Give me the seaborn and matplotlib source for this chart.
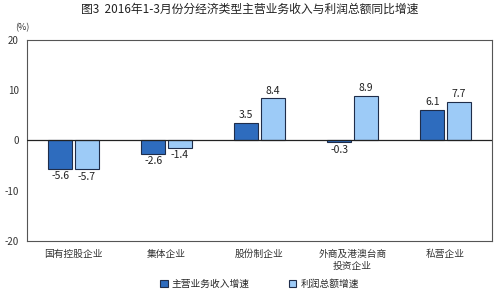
import matplotlib
matplotlib.use("Agg")
import matplotlib.pyplot as plt
import seaborn as sns
import pandas as pd

categories = ["国有控股企业", "集体企业", "股份制企业", "外商及港澳台商\n投资企业", "私营企业"]
series_names = ["主营业务收入增速", "利润总额增速"]
revenue = [-5.6, -2.6, 3.5, -0.3, 6.1]
profit = [-5.7, -1.4, 8.4, 8.9, 7.7]
yticks = [-20, -10, 0, 10, 20]

sns.set_theme(style="white")
plt.rcParams['font.family'] = ['Noto Sans CJK SC', 'DejaVu Sans']
plt.rcParams['axes.unicode_minus'] = False

df = pd.DataFrame({
    "cat": categories * 2,
    "series": [series_names[0]] * 5 + [series_names[1]] * 5,
    "value": revenue + profit,
})

fig = plt.figure(figsize=(5, 2.97), dpi=100)
ax = fig.add_axes([0.054, 0.189, 0.93, 0.676])
palette = {series_names[0]: "#2E6CBE", series_names[1]: "#9DCBF7"}
sns.barplot(data=df, x="cat", y="value", hue="series", palette=palette,
            width=0.57, gap=0.08, edgecolor="#1F2D4A", linewidth=0.8,
            saturation=1, ax=ax, legend=True)

ax.set_ylim(-20, 20)
ax.set_yticks(yticks)
ax.set_yticklabels([str(t) for t in yticks], fontsize=7, color="#333333")
ax.tick_params(axis="y", length=2, direction="in", pad=6)
ax.tick_params(axis="x", length=0, pad=6, labelsize=7, labelcolor="#333333")
ax.set_xlabel("")
ax.set_ylabel("")
ax.axhline(0, color="#222222", linewidth=0.9, zorder=3)
for s in ax.spines.values():
    s.set_color("#555555")
    s.set_linewidth(0.8)

for cont in ax.containers:
    labels = [f"{v:.1f}" for v in cont.datavalues]
    ax.bar_label(cont, labels=labels, padding=2, fontsize=7.5, color="#222222")

ax.text(-0.025, 1.05, "(%)", transform=ax.transAxes, fontsize=6.5, color="#333333", ha="left")

leg = ax.legend(loc="upper center", bbox_to_anchor=(0.5, -0.17), ncol=2, frameon=False,
                fontsize=7, handlelength=0.8, handleheight=0.8, columnspacing=4,
                handletextpad=0.4, borderaxespad=0)

fig.suptitle("图3  2016年1-3月份分经济类型主营业务收入与利润总额同比增速", fontsize=8.5,
             y=0.99, color="#222222")

fig.savefig("out.png", dpi=100)
